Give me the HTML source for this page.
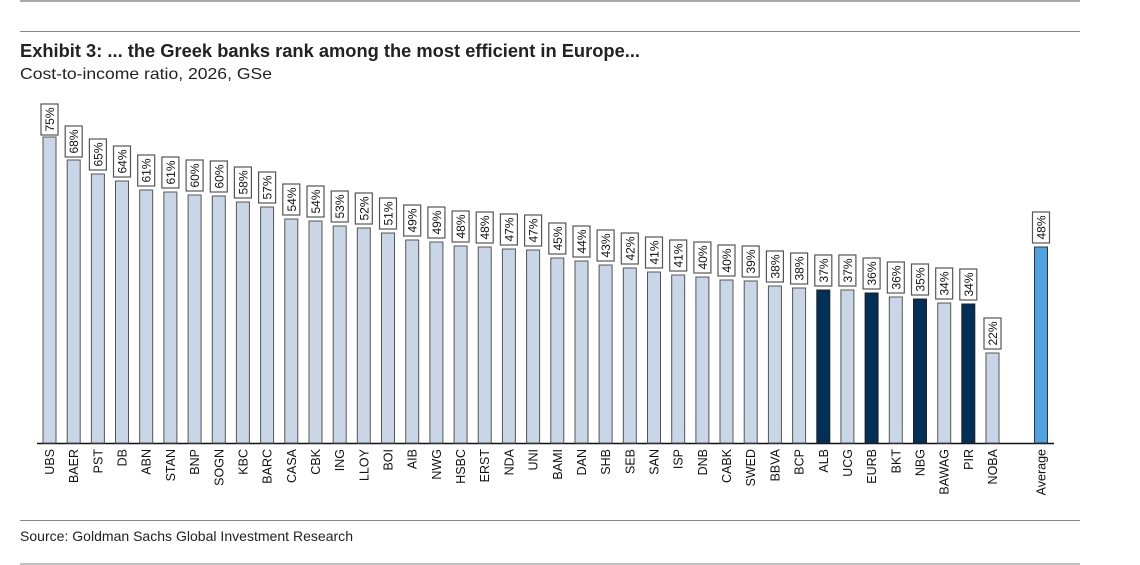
<!DOCTYPE html>
<html><head><meta charset="utf-8"><style>
body{margin:0;background:#fff;width:1140px;height:565px;overflow:hidden}
svg{display:block}
.t{font-family:"Liberation Sans",Arial,sans-serif}
.b{fill:#c9d6e8;stroke:#555;stroke-width:1}
.d{fill:#003057;stroke:#222;stroke-width:1}
.a{fill:#4fa3e0;stroke:#333;stroke-width:1}
.bx{fill:#fff;stroke:#555;stroke-width:1.2}
.v{font-family:"Liberation Sans",Arial,sans-serif;font-size:12px;fill:#111;text-anchor:middle}
.l{font-family:"Liberation Sans",Arial,sans-serif;font-size:12.5px;fill:#111;text-anchor:end}
</style></head><body>
<svg width="1140" height="565" viewBox="0 0 1140 565">
<line x1="20" y1="1" x2="1080" y2="1" stroke="#aaa" stroke-width="2"/>
<line x1="20" y1="31.5" x2="1080" y2="31.5" stroke="#888" stroke-width="1"/>
<text x="20" y="57" class="t" font-size="18" font-weight="bold" fill="#222" textLength="620" lengthAdjust="spacingAndGlyphs">Exhibit 3: ... the Greek banks rank among the most efficient in Europe...</text>
<text x="20" y="79" class="t" font-size="16" fill="#222" textLength="252" lengthAdjust="spacingAndGlyphs">Cost-to-income ratio, 2026, GSe</text>
<line x1="37" y1="443.5" x2="1054" y2="443.5" stroke="#111" stroke-width="1.5"/>
<line x1="20" y1="520.5" x2="1080" y2="520.5" stroke="#888" stroke-width="1"/>
<text x="20" y="541" class="t" font-size="14" fill="#222" textLength="333" lengthAdjust="spacingAndGlyphs">Source: Goldman Sachs Global Investment Research</text>
<line x1="20" y1="564" x2="1080" y2="564" stroke="#aaa" stroke-width="1.5"/>

<g transform="translate(43,0)"><rect class="b" x="0" y="137" width="13" height="306"/><rect class="bx" x="-2" y="104" width="17" height="31"/><text class="v" transform="translate(11,119.5) rotate(-90)">75%</text><text class="l" transform="translate(11,449) rotate(-90)">UBS</text></g>
<g transform="translate(67.2,0)"><rect class="b" x="0" y="160" width="13" height="283"/><rect class="bx" x="-2" y="126" width="17" height="31"/><text class="v" transform="translate(11,141.5) rotate(-90)">68%</text><text class="l" transform="translate(11,449) rotate(-90)">BAER</text></g>
<g transform="translate(91.4,0)"><rect class="b" x="0" y="174" width="13" height="269"/><rect class="bx" x="-2" y="139" width="17" height="31"/><text class="v" transform="translate(11,154.5) rotate(-90)">65%</text><text class="l" transform="translate(11,449) rotate(-90)">PST</text></g>
<g transform="translate(115.5,0)"><rect class="b" x="0" y="181" width="13" height="262"/><rect class="bx" x="-2" y="146" width="17" height="31"/><text class="v" transform="translate(11,161.5) rotate(-90)">64%</text><text class="l" transform="translate(11,449) rotate(-90)">DB</text></g>
<g transform="translate(139.7,0)"><rect class="b" x="0" y="190" width="13" height="253"/><rect class="bx" x="-2" y="155" width="17" height="31"/><text class="v" transform="translate(11,170.5) rotate(-90)">61%</text><text class="l" transform="translate(11,449) rotate(-90)">ABN</text></g>
<g transform="translate(163.9,0)"><rect class="b" x="0" y="192" width="13" height="251"/><rect class="bx" x="-2" y="157" width="17" height="31"/><text class="v" transform="translate(11,172.5) rotate(-90)">61%</text><text class="l" transform="translate(11,449) rotate(-90)">STAN</text></g>
<g transform="translate(188.1,0)"><rect class="b" x="0" y="195" width="13" height="248"/><rect class="bx" x="-2" y="160" width="17" height="31"/><text class="v" transform="translate(11,175.5) rotate(-90)">60%</text><text class="l" transform="translate(11,449) rotate(-90)">BNP</text></g>
<g transform="translate(212.3,0)"><rect class="b" x="0" y="196" width="13" height="247"/><rect class="bx" x="-2" y="161" width="17" height="31"/><text class="v" transform="translate(11,176.5) rotate(-90)">60%</text><text class="l" transform="translate(11,449) rotate(-90)">SOGN</text></g>
<g transform="translate(236.4,0)"><rect class="b" x="0" y="202" width="13" height="241"/><rect class="bx" x="-2" y="167" width="17" height="31"/><text class="v" transform="translate(11,182.5) rotate(-90)">58%</text><text class="l" transform="translate(11,449) rotate(-90)">KBC</text></g>
<g transform="translate(260.6,0)"><rect class="b" x="0" y="207" width="13" height="236"/><rect class="bx" x="-2" y="172" width="17" height="31"/><text class="v" transform="translate(11,187.5) rotate(-90)">57%</text><text class="l" transform="translate(11,449) rotate(-90)">BARC</text></g>
<g transform="translate(284.8,0)"><rect class="b" x="0" y="219" width="13" height="224"/><rect class="bx" x="-2" y="184" width="17" height="31"/><text class="v" transform="translate(11,199.5) rotate(-90)">54%</text><text class="l" transform="translate(11,449) rotate(-90)">CASA</text></g>
<g transform="translate(309,0)"><rect class="b" x="0" y="221" width="13" height="222"/><rect class="bx" x="-2" y="186" width="17" height="31"/><text class="v" transform="translate(11,201.5) rotate(-90)">54%</text><text class="l" transform="translate(11,449) rotate(-90)">CBK</text></g>
<g transform="translate(333.2,0)"><rect class="b" x="0" y="226" width="13" height="217"/><rect class="bx" x="-2" y="191" width="17" height="31"/><text class="v" transform="translate(11,206.5) rotate(-90)">53%</text><text class="l" transform="translate(11,449) rotate(-90)">ING</text></g>
<g transform="translate(357.3,0)"><rect class="b" x="0" y="228" width="13" height="215"/><rect class="bx" x="-2" y="193" width="17" height="31"/><text class="v" transform="translate(11,208.5) rotate(-90)">52%</text><text class="l" transform="translate(11,449) rotate(-90)">LLOY</text></g>
<g transform="translate(381.5,0)"><rect class="b" x="0" y="233" width="13" height="210"/><rect class="bx" x="-2" y="198" width="17" height="31"/><text class="v" transform="translate(11,213.5) rotate(-90)">51%</text><text class="l" transform="translate(11,449) rotate(-90)">BOI</text></g>
<g transform="translate(405.7,0)"><rect class="b" x="0" y="240" width="13" height="203"/><rect class="bx" x="-2" y="205" width="17" height="31"/><text class="v" transform="translate(11,220.5) rotate(-90)">49%</text><text class="l" transform="translate(11,449) rotate(-90)">AIB</text></g>
<g transform="translate(429.9,0)"><rect class="b" x="0" y="242" width="13" height="201"/><rect class="bx" x="-2" y="207" width="17" height="31"/><text class="v" transform="translate(11,222.5) rotate(-90)">49%</text><text class="l" transform="translate(11,449) rotate(-90)">NWG</text></g>
<g transform="translate(454.1,0)"><rect class="b" x="0" y="246" width="13" height="197"/><rect class="bx" x="-2" y="211" width="17" height="31"/><text class="v" transform="translate(11,226.5) rotate(-90)">48%</text><text class="l" transform="translate(11,449) rotate(-90)">HSBC</text></g>
<g transform="translate(478.2,0)"><rect class="b" x="0" y="247" width="13" height="196"/><rect class="bx" x="-2" y="212" width="17" height="31"/><text class="v" transform="translate(11,227.5) rotate(-90)">48%</text><text class="l" transform="translate(11,449) rotate(-90)">ERST</text></g>
<g transform="translate(502.4,0)"><rect class="b" x="0" y="249" width="13" height="194"/><rect class="bx" x="-2" y="214" width="17" height="31"/><text class="v" transform="translate(11,229.5) rotate(-90)">47%</text><text class="l" transform="translate(11,449) rotate(-90)">NDA</text></g>
<g transform="translate(526.6,0)"><rect class="b" x="0" y="250" width="13" height="193"/><rect class="bx" x="-2" y="215" width="17" height="31"/><text class="v" transform="translate(11,230.5) rotate(-90)">47%</text><text class="l" transform="translate(11,449) rotate(-90)">UNI</text></g>
<g transform="translate(550.8,0)"><rect class="b" x="0" y="258" width="13" height="185"/><rect class="bx" x="-2" y="223" width="17" height="31"/><text class="v" transform="translate(11,238.5) rotate(-90)">45%</text><text class="l" transform="translate(11,449) rotate(-90)">BAMI</text></g>
<g transform="translate(575,0)"><rect class="b" x="0" y="261" width="13" height="182"/><rect class="bx" x="-2" y="226" width="17" height="31"/><text class="v" transform="translate(11,241.5) rotate(-90)">44%</text><text class="l" transform="translate(11,449) rotate(-90)">DAN</text></g>
<g transform="translate(599.1,0)"><rect class="b" x="0" y="265" width="13" height="178"/><rect class="bx" x="-2" y="230" width="17" height="31"/><text class="v" transform="translate(11,245.5) rotate(-90)">43%</text><text class="l" transform="translate(11,449) rotate(-90)">SHB</text></g>
<g transform="translate(623.3,0)"><rect class="b" x="0" y="268" width="13" height="175"/><rect class="bx" x="-2" y="233" width="17" height="31"/><text class="v" transform="translate(11,248.5) rotate(-90)">42%</text><text class="l" transform="translate(11,449) rotate(-90)">SEB</text></g>
<g transform="translate(647.5,0)"><rect class="b" x="0" y="272" width="13" height="171"/><rect class="bx" x="-2" y="237" width="17" height="31"/><text class="v" transform="translate(11,252.5) rotate(-90)">41%</text><text class="l" transform="translate(11,449) rotate(-90)">SAN</text></g>
<g transform="translate(671.7,0)"><rect class="b" x="0" y="275" width="13" height="168"/><rect class="bx" x="-2" y="240" width="17" height="31"/><text class="v" transform="translate(11,255.5) rotate(-90)">41%</text><text class="l" transform="translate(11,449) rotate(-90)">ISP</text></g>
<g transform="translate(695.9,0)"><rect class="b" x="0" y="277" width="13" height="166"/><rect class="bx" x="-2" y="242" width="17" height="31"/><text class="v" transform="translate(11,257.5) rotate(-90)">40%</text><text class="l" transform="translate(11,449) rotate(-90)">DNB</text></g>
<g transform="translate(720,0)"><rect class="b" x="0" y="280" width="13" height="163"/><rect class="bx" x="-2" y="245" width="17" height="31"/><text class="v" transform="translate(11,260.5) rotate(-90)">40%</text><text class="l" transform="translate(11,449) rotate(-90)">CABK</text></g>
<g transform="translate(744.2,0)"><rect class="b" x="0" y="281" width="13" height="162"/><rect class="bx" x="-2" y="246" width="17" height="31"/><text class="v" transform="translate(11,261.5) rotate(-90)">39%</text><text class="l" transform="translate(11,449) rotate(-90)">SWED</text></g>
<g transform="translate(768.4,0)"><rect class="b" x="0" y="286" width="13" height="157"/><rect class="bx" x="-2" y="251" width="17" height="31"/><text class="v" transform="translate(11,266.5) rotate(-90)">38%</text><text class="l" transform="translate(11,449) rotate(-90)">BBVA</text></g>
<g transform="translate(792.6,0)"><rect class="b" x="0" y="288" width="13" height="155"/><rect class="bx" x="-2" y="253" width="17" height="31"/><text class="v" transform="translate(11,268.5) rotate(-90)">38%</text><text class="l" transform="translate(11,449) rotate(-90)">BCP</text></g>
<g transform="translate(816.8,0)"><rect class="d" x="0" y="290" width="13" height="153"/><rect class="bx" x="-2" y="255" width="17" height="31"/><text class="v" transform="translate(11,270.5) rotate(-90)">37%</text><text class="l" transform="translate(11,449) rotate(-90)">ALB</text></g>
<g transform="translate(840.9,0)"><rect class="b" x="0" y="290" width="13" height="153"/><rect class="bx" x="-2" y="255" width="17" height="31"/><text class="v" transform="translate(11,270.5) rotate(-90)">37%</text><text class="l" transform="translate(11,449) rotate(-90)">UCG</text></g>
<g transform="translate(865.1,0)"><rect class="d" x="0" y="293" width="13" height="150"/><rect class="bx" x="-2" y="258" width="17" height="31"/><text class="v" transform="translate(11,273.5) rotate(-90)">36%</text><text class="l" transform="translate(11,449) rotate(-90)">EURB</text></g>
<g transform="translate(889.3,0)"><rect class="b" x="0" y="297" width="13" height="146"/><rect class="bx" x="-2" y="262" width="17" height="31"/><text class="v" transform="translate(11,277.5) rotate(-90)">36%</text><text class="l" transform="translate(11,449) rotate(-90)">BKT</text></g>
<g transform="translate(913.5,0)"><rect class="d" x="0" y="299" width="13" height="144"/><rect class="bx" x="-2" y="264" width="17" height="31"/><text class="v" transform="translate(11,279.5) rotate(-90)">35%</text><text class="l" transform="translate(11,449) rotate(-90)">NBG</text></g>
<g transform="translate(937.7,0)"><rect class="b" x="0" y="303" width="13" height="140"/><rect class="bx" x="-2" y="268" width="17" height="31"/><text class="v" transform="translate(11,283.5) rotate(-90)">34%</text><text class="l" transform="translate(11,449) rotate(-90)">BAWAG</text></g>
<g transform="translate(961.8,0)"><rect class="d" x="0" y="304" width="13" height="139"/><rect class="bx" x="-2" y="269" width="17" height="31"/><text class="v" transform="translate(11,284.5) rotate(-90)">34%</text><text class="l" transform="translate(11,449) rotate(-90)">PIR</text></g>
<g transform="translate(986,0)"><rect class="b" x="0" y="353" width="13" height="90"/><rect class="bx" x="-2" y="318" width="17" height="31"/><text class="v" transform="translate(11,333.5) rotate(-90)">22%</text><text class="l" transform="translate(11,449) rotate(-90)">NOBA</text></g>
<g transform="translate(1034.5,0)"><rect class="a" x="0" y="247" width="13" height="196"/><rect class="bx" x="-2" y="212" width="17" height="31"/><text class="v" transform="translate(11,227.5) rotate(-90)">48%</text><text class="l" transform="translate(11,449) rotate(-90)">Average</text></g>
</svg>
</body></html>
